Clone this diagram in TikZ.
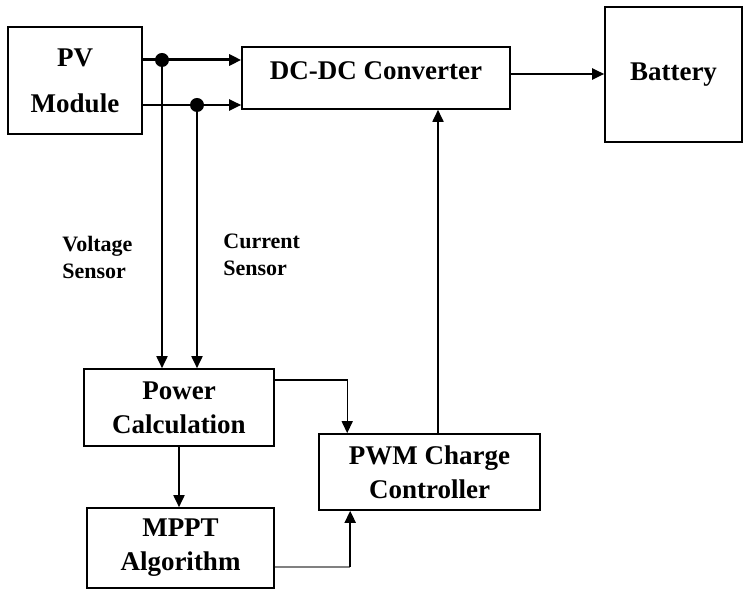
\documentclass[tikz,border=0pt]{standalone}
\usepackage{fontspec}
\setmainfont{Liberation Serif}
\usetikzlibrary{arrows.meta,positioning,calc}

\begin{document}
\begin{tikzpicture}[x=0.5pt,y=-0.5pt,
	box/.style={draw,line width=0.8pt,inner sep=0pt,align=center,
		font=\bfseries\fontsize{13.5}{17}\selectfont},
	lbl/.style={align=left,inner sep=0pt,font=\bfseries\fontsize{11}{13.5}\selectfont},
	wire/.style={line width=0.9pt},
	>={Triangle[length=6pt,width=5.5pt]}]
		
		\useasboundingbox (0,0) rectangle (750,597);
		
		% --- Blocks ---
		\node[box,minimum width=67pt,minimum height=53.5pt] (pv) at (75,80.5)
			{PV\\[6pt]Module};
		\node[box,minimum width=134pt,minimum height=31pt] (dc) at (376,78) {};
		\node[box,draw=none] (dctext) at (376,71) {DC-DC Converter};
		\node[box,minimum width=68.5pt,minimum height=67.5pt] (bat) at (673.5,74.5)
			{Battery};
		\node[box,minimum width=95pt,minimum height=38.5pt] (pc) at (179,407.5)
			{Power\\Calculation};
		\node[box,minimum width=110.5pt,minimum height=38pt] (pwm) at (429.5,472)
			{PWM Charge\\Controller};
		\node[box,minimum width=93.5pt,minimum height=40pt] (mppt) at (180.5,548)
			{MPPT\\Algorithm};
		
		% --- Sensor labels ---
		\node[lbl,anchor=west] (vs) at (62,257) {Voltage\\Sensor};
		\node[lbl,anchor=west] (cs) at (223,255) {Current\\Sensor};
		
		% --- Sensing points ---
		\coordinate (j1) at (162,60);
		\coordinate (j2) at (197,105);
		
		% PV to converter
		\draw[line width=1.5pt] (pv.east |- j1) -- (j1);
		\draw[->,line width=1.5pt] (j1) -- (dc.west |- j1);
		\draw[->,line width=1.1pt] (pv.east |- j2) -- (dc.west |- j2);
		\fill (j1) circle (3.5pt);
		\fill (j2) circle (3.5pt);
		
		% sensors down to power calculation
		\draw[->,wire] (j1) -- (j1 |- pc.north);
		\draw[->,wire] (j2) -- (j2 |- pc.north);
		
		% converter to battery
		\draw[->,line width=1.1pt] ([yshift=2pt]dc.east) -- ([yshift=2pt]dc.east -| bat.west);
		
		% power calculation to PWM and MPPT
		\draw[->,line width=0.7pt] ([yshift=-6pt]pc.north east) -| ([xshift=14.5pt]pwm.north west);
		\draw[->,wire] (pc.south) -- (pc.south |- mppt.north);
		
		% MPPT to PWM (gray lead-in)
		\coordinate (m1) at ([yshift=-9.5pt]mppt.east);
		\coordinate (m2) at ([xshift=16pt]pwm.south west);
		\draw[gray,line width=0.8pt] (m1) -- (m2 |- m1);
		\draw[->,wire] (m2 |- m1) -- (m2);
		
		% PWM to converter
		\draw[->,wire] ([xshift=4.25pt]pwm.north) -- ([xshift=4.25pt]pwm.north |- dc.south);
		
	\end{tikzpicture}
\end{document}
